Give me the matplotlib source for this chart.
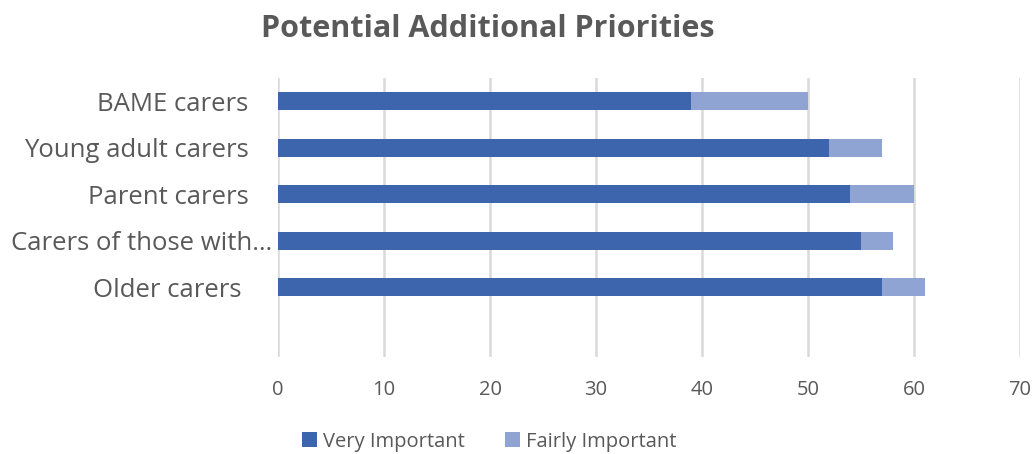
import numpy as np
import matplotlib.pyplot as plt
from matplotlib.transforms import ScaledTranslation

# Survey responses per carer group
categories = ['BAME carers', 'Young adult carers', 'Parent carers',
              'Carers of those with…', 'Older carers ']
very_important = [39, 52, 54, 55, 57]
fairly_important = [11, 5, 6, 3, 4]

dark = '#3D65AD'
light = '#8FA4D3'
grey = '#595959'

plt.rcParams['font.family'] = ['Open Sans', 'DejaVu Sans']

fig = plt.figure(figsize=(10.34, 4.54), dpi=100)
ax = fig.add_axes([0.2689, 0.2137, 0.7176, 0.6145])

# top-to-bottom order, with one empty slot under the last group
y = np.arange(len(categories))
ax.barh(y, very_important, height=0.39, color=dark, label='Very Important')
ax.barh(y, fairly_important, left=very_important, height=0.39,
        color=light, label='Fairly Important')

ax.set_ylim(len(categories) + 0.5, -0.5)
ax.set_xlim(0, 70)
ax.set_xticks(range(0, 71, 10))
ax.set_yticks(y)
ax.set_yticklabels(categories, fontsize=18.5, color=grey)
ax.tick_params(axis='x', labelsize=14.5, colors=grey, length=0, pad=16.5)
ax.tick_params(axis='y', length=0, pad=4)

# the truncated label sits closer to the axis than the others
for lbl in ax.get_yticklabels():
    if not lbl.get_text().endswith('…'):
        lbl.set_transform(lbl.get_transform() +
                          ScaledTranslation(-0.24, 0, fig.dpi_scale_trans))

ax.grid(axis='x', color='#D9D9D9', linewidth=1.8)
ax.set_axisbelow(True)
for s in ax.spines.values():
    s.set_visible(False)

fig.text(0.4714, 0.937, 'Potential Additional Priorities', ha='center', va='center',
         fontsize=22, fontweight='bold', color=grey)

fig.legend(loc='center', bbox_to_anchor=(0.4734, 0.027), ncol=2, frameon=False,
           fontsize=14.5, labelcolor=grey, handlelength=0.75, handleheight=0.75,
           handletextpad=0.3, columnspacing=2.0)

fig.savefig('out.png', dpi=100)
